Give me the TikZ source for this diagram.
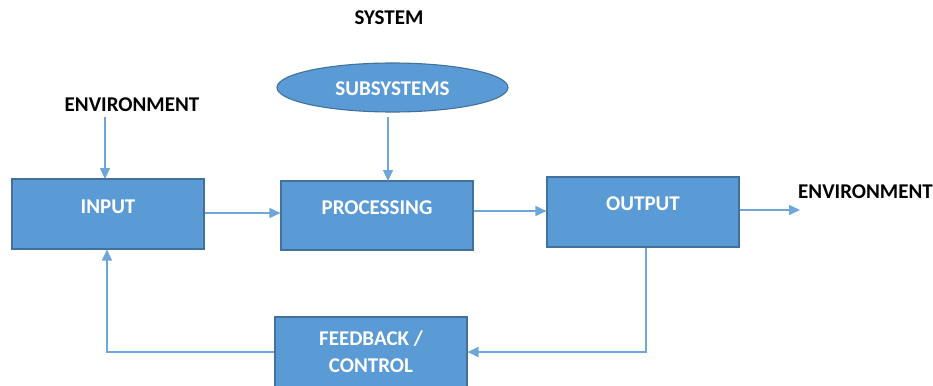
\documentclass[tikz,border=0pt]{standalone}
\usepackage{fontspec}
\setmainfont{Carlito}
\usetikzlibrary{arrows.meta,shapes.geometric}
\definecolor{boxfill}{HTML}{5B9BD5}
\definecolor{boxedge}{HTML}{41719C}
\definecolor{wire}{HTML}{6FA6DA}
\begin{document}
\begin{tikzpicture}[x=1pt,y=-1pt,
  blockbox/.style={draw=boxedge, fill=boxfill, line width=1.1pt, minimum width=192pt, inner sep=0pt},
  ovalbox/.style={ellipse, draw=boxedge, fill=boxfill, line width=1.1pt, minimum width=231pt, minimum height=49pt, inner sep=0pt},
  whitetxt/.style={text=white, font=\fontsize{21}{24}\selectfont\bfseries},
  blacktxt/.style={text=black, font=\fontsize{21}{24}\selectfont\bfseries},
  flow/.style={draw=wire, line width=1.5pt, -{Triangle[length=11pt,width=10pt]}}
]
\useasboundingbox (0,0) rectangle (933,385);

% title and environment labels
\node[blacktxt] (system) at (389,18) {SYSTEM};
\node[blacktxt] (envin) at (132,105) {ENVIRONMENT};
\node[blacktxt, anchor=west, inner sep=0pt] (envout) at (798,192) {ENVIRONMENT};

% blocks
\node[blockbox, minimum height=70pt] (input) at (108,214) {};
\node[whitetxt] (inputtxt) at (108,207) {INPUT};
\node[blockbox, minimum height=69pt] (proc) at (377,215.5) {};
\node[whitetxt] (proctxt) at (377,208) {PROCESSING};
\node[blockbox, minimum height=70pt] (out) at (643,212) {};
\node[whitetxt] (outtxt) at (643,204) {OUTPUT};
\node[ovalbox] (sub) at (392.5,87.5) {};
\node[whitetxt] (subtxt) at (392.5,89) {SUBSYSTEMS};
\node[blockbox, minimum height=70pt] (fb) at (371,352) {};
\node[whitetxt, align=center] (fbtxt) at (371,351.5) {FEEDBACK /\\[3pt]CONTROL};

% connector helpers
\coordinate (envend) at (800,210);
\coordinate (outdown) at (646,352);
\coordinate (inup) at (107,352);

% connectors
\draw[flow] (105,117) -- (105,179);
\draw[flow] (input.east |- 0,213) -- (proc.west |- 0,213);
\draw[flow] (388,117) -- (388,181);
\draw[flow] (proc.east |- 0,211) -- (out.west |- 0,211);
\draw[flow] (out.east |- envend) -- (envend);
\draw[flow] (outdown |- out.south) -- (outdown) -- (fb.east |- outdown);
\draw[flow] (fb.west |- inup) -- (inup) -- (inup |- input.south);
\end{tikzpicture}
\end{document}
